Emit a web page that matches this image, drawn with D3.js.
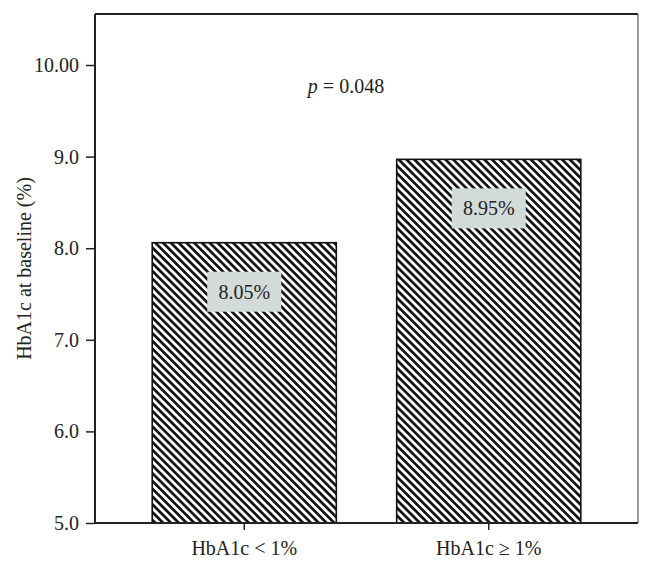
<!DOCTYPE html>
<html lang="en">
<head>
<meta charset="UTF-8">
<title>HbA1c at baseline</title>
<script src="https://d3js.org/d3.v7.min.js"></script>
<style>
  body { margin: 0; background: #fff; }
  svg { display: block; font-family: "Liberation Serif", "Times New Roman", serif; }
  .tick text { font-size: 20px; fill: #222; font-family: "Liberation Serif", "Times New Roman", serif; }
</style>
</head>
<body>
<svg id="chart" width="652" height="567"></svg>
<script>
// data
const groups = ["HbA1c < 1%", "HbA1c \u2265 1%"];
const values = [8.06, 8.97];
const valueLabels = ["8.05%", "8.95%"];
const yTicks = [5, 6, 7, 8, 9, 10];
const yTickLabels = ["5.0", "6.0", "7.0", "8.0", "9.0", "10.00"];
const pText = "0.048";

const plotL = 95, plotR = 638, plotT = 14, plotB = 523;

const svg = d3.select("#chart");

// hatch pattern, lines going top-left to bottom-right
const defs = svg.append("defs");
const pat = defs.append("pattern")
  .attr("id", "hatch")
  .attr("patternUnits", "userSpaceOnUse")
  .attr("width", 5.5).attr("height", 5.5)
  .attr("patternTransform", "rotate(45)");
pat.append("rect").attr("width", 5.5).attr("height", 5.5).attr("fill", "#fff");
pat.append("rect").attr("width", 5.5).attr("height", 2.7).attr("fill", "#111");

const x = d3.scaleBand()
  .domain(groups)
  .range([plotL, plotR])
  .paddingInner(0.247)
  .paddingOuter(0.234);

const y = d3.scaleLinear()
  .domain([5, 10.557])
  .range([plotB, plotT]);

// bars
svg.selectAll("rect.bar")
  .data(values)
  .join("rect")
  .attr("class", "bar")
  .attr("x", (d, i) => x(groups[i]))
  .attr("y", d => y(d))
  .attr("width", x.bandwidth())
  .attr("height", d => y(5) - y(d))
  .attr("fill", "url(#hatch)")
  .attr("stroke", "#111")
  .attr("stroke-width", 1.6);

// value boxes
const lab = svg.selectAll("g.vlab")
  .data(values)
  .join("g")
  .attr("class", "vlab")
  .attr("transform", (d, i) => "translate(" + (x(groups[i]) + x.bandwidth() / 2) + "," + (y(d) + 29) + ")");
lab.append("rect")
  .attr("x", -37).attr("y", 0)
  .attr("width", 74).attr("height", 40)
  .attr("fill", "#d3dbd9");
lab.append("text")
  .attr("y", 27)
  .attr("text-anchor", "middle")
  .attr("font-size", 20)
  .attr("fill", "#222")
  .text((d, i) => valueLabels[i]);

// axes
const yAxis = d3.axisLeft(y)
  .tickValues(yTicks)
  .tickFormat((d, i) => yTickLabels[i])
  .tickSize(9)
  .tickPadding(7);
const gy = svg.append("g").attr("transform", "translate(" + plotL + ",0)").call(yAxis)
  .attr("font-family", null).attr("font-size", null);
gy.select(".domain").remove();
gy.selectAll(".tick line").attr("stroke", "#222").attr("stroke-width", 1.5);

const xAxis = d3.axisBottom(x).tickSize(7).tickPadding(11);
const gx = svg.append("g").attr("transform", "translate(0," + plotB + ")").call(xAxis)
  .attr("font-family", null).attr("font-size", null);
gx.select(".domain").remove();
gx.selectAll(".tick line").attr("stroke", "#222").attr("stroke-width", 1.5);

// frame
svg.append("line").attr("x1", plotL).attr("x2", plotR).attr("y1", plotT).attr("y2", plotT)
  .attr("stroke", "#222").attr("stroke-width", 2);
svg.append("line").attr("x1", plotR).attr("x2", plotR).attr("y1", plotT).attr("y2", plotB)
  .attr("stroke", "#777").attr("stroke-width", 1.5);
svg.append("line").attr("x1", plotL).attr("x2", plotL).attr("y1", plotT).attr("y2", plotB)
  .attr("stroke", "#222").attr("stroke-width", 2);
svg.append("line").attr("x1", plotL).attr("x2", plotR).attr("y1", plotB).attr("y2", plotB)
  .attr("stroke", "#222").attr("stroke-width", 2);

// y label
svg.append("text")
  .attr("transform", "translate(31," + ((plotT + plotB) / 2) + ") rotate(-90)")
  .attr("text-anchor", "middle")
  .attr("font-size", 20)
  .attr("fill", "#222")
  .text("HbA1c at baseline (%)");

// p value
const pt = svg.append("text")
  .attr("x", 346)
  .attr("y", y(9.69))
  .attr("text-anchor", "middle")
  .attr("font-size", 20)
  .attr("fill", "#222");
pt.append("tspan").attr("font-style", "italic").text("p");
pt.append("tspan").text(" = " + pText);
</script>
</body>
</html>
